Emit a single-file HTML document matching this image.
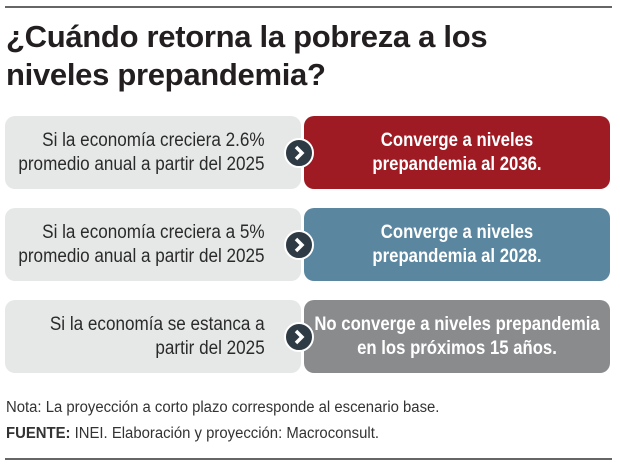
<!DOCTYPE html>
<html><head><meta charset="utf-8"><style>
body{margin:0;width:620px;height:467px;background:#fff;position:relative;overflow:hidden;font-family:"Liberation Sans",sans-serif;color:#222}
.abs{position:absolute}
.line{left:5px;width:607px;height:2px;background:#666}
.title{left:6px;top:18px;font-weight:bold;font-size:31px;line-height:38px;color:#231f20;letter-spacing:-0.3px}
.lbox{left:5px;width:296px;height:73px;background:#e6e8e7;border-radius:10px}
.lbox span{position:absolute;right:36px;top:50%;transform:translateY(-50%) scaleX(0.9);transform-origin:right center;white-space:nowrap;text-align:right;font-size:19px;line-height:24px;color:#2a2a2a}
.rbox{left:304px;width:306px;height:73px;border-radius:10px}
.rbox span{position:absolute;left:50%;top:50%;transform:translate(-50%,-50%) scaleX(0.88);white-space:nowrap;text-align:center;font-size:19px;line-height:24px;font-weight:bold;color:#fff}
.arrow{width:26px;height:26px;border-radius:50%;background:#2e3a44;border:2px solid #fff;left:284px}
.arrow svg{position:absolute;left:0;top:0}
.note{left:6px;font-size:15.5px;color:#333;white-space:nowrap;transform:scaleX(0.96);transform-origin:left center}
</style></head><body>
<div class="abs line" style="top:6px"></div>
<div class="abs title">¿Cuándo retorna la pobreza a los<br>niveles prepandemia?</div>

<div class="abs lbox" style="top:116px"><span>Si la economía creciera 2.6%<br>promedio anual a partir del 2025</span></div>
<div class="abs rbox" style="top:116px;background:#9e1b23"><span>Converge a niveles<br>prepandemia al 2036.</span></div>
<div class="abs arrow" style="top:138px"><svg width="26" height="26"><path d="M10 7 L16 13 L10 19" stroke="#fff" stroke-width="3.5" fill="none"/></svg></div>

<div class="abs lbox" style="top:208px"><span>Si la economía creciera a 5%<br>promedio anual a partir del 2025</span></div>
<div class="abs rbox" style="top:208px;background:#5a86a0"><span>Converge a niveles<br>prepandemia al 2028.</span></div>
<div class="abs arrow" style="top:230px"><svg width="26" height="26"><path d="M10 7 L16 13 L10 19" stroke="#fff" stroke-width="3.5" fill="none"/></svg></div>

<div class="abs lbox" style="top:300px"><span>Si la economía se estanca a<br>partir del 2025</span></div>
<div class="abs rbox" style="top:300px;background:#8a8b8d"><span>No converge a niveles prepandemia<br>en los próximos 15 años.</span></div>
<div class="abs arrow" style="top:322px"><svg width="26" height="26"><path d="M10 7 L16 13 L10 19" stroke="#fff" stroke-width="3.5" fill="none"/></svg></div>

<div class="abs note" style="top:399px">Nota: La proyección a corto plazo corresponde al escenario base.</div>
<div class="abs note" style="top:425px"><b>FUENTE:</b> INEI. Elaboración y proyección: Macroconsult.</div>
<div class="abs line" style="top:458px"></div>
</body></html>
